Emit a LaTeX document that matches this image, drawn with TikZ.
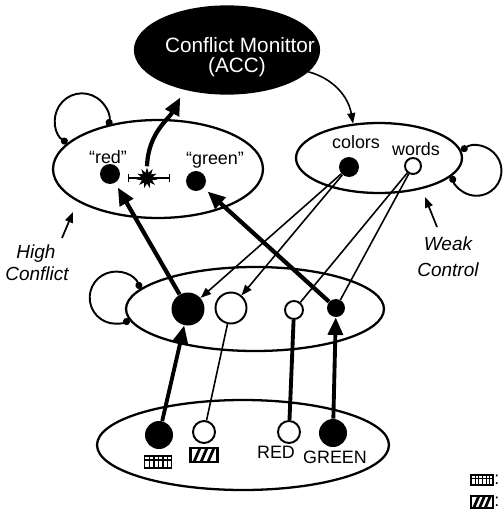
\documentclass[tikz,border=0pt]{standalone}
\usepackage{fontspec}
\setmainfont{Liberation Sans}
\usetikzlibrary{shapes.geometric,arrows.meta}
\tikzset{
 pool/.style={draw, ellipse, line width=1.3pt, inner sep=0pt},
 onunit/.style={circle, fill, inner sep=0pt},
 offunit/.style={circle, draw, fill=white, line width=1.1pt, inner sep=0pt},
 lbl/.style={font=\fontsize{10.2}{12}\selectfont, inner sep=0pt, anchor=base},
 tag/.style={font=\fontsize{10.8}{13}\selectfont\itshape, inner sep=0pt, anchor=base},
 thinline/.style={line width=0.9pt},
 thinarrow/.style={line width=0.9pt, -{Triangle[length=6pt,width=4.5pt]}},
 thickline/.style={line width=2.2pt},
 thickarrow/.style={line width=2.4pt, -{Triangle[length=10pt,width=8.5pt]}},
 pointer/.style={line width=1pt, -{Triangle[length=6pt,width=4.5pt]}},
 selfloop/.style={line width=1.1pt, {Circle[length=4pt]}-{Circle[length=4pt]}},
 errbar/.style={line width=0.8pt, {Bar[width=5pt]}-{Bar[width=5pt]}},
 gridicon/.pic={
  \draw[line width=0.9pt] (-13.5,-6) rectangle (13.5,6);
  \draw[line width=0.6pt] (-13.5,2) -- (13.5,2);
  \foreach \gx in {-8.5,-4,0.5,5,9.5} \draw[line width=0.6pt] (\gx,-6) -- (\gx,6);
 },
 hatchicon/.pic={
  \draw[line width=1.2pt] (-13.5,-7) rectangle (13.5,7);
  \foreach \hx in {-7,0,7} \draw[line width=1.6pt] (\hx-3,-7) -- (\hx+3,7);
 }
}
\begin{document}
\begin{tikzpicture}[x=0.02cm, y=0.02cm]
 \useasboundingbox (0,0) rectangle (503,-518);
 % monitor
 \node[pool, fill=black, minimum width=3.68cm, minimum height=1.74cm] (acc) at (227,-50) {};
 \node[lbl, text=white, font=\fontsize{11.8}{12}\selectfont] (acctop) at (240,-52) {Conflict Monittor};
 \node[lbl, text=white, font=\fontsize{11.8}{12}\selectfont] (accbot) at (237,-72) {(ACC)};
 % response layer
 \node[pool, minimum width=4.2cm, minimum height=1.96cm] (word) at (158,-169) {};
 \node[onunit, minimum size=0.4cm] (rd) at (110,-174) {};
 \node[onunit, minimum size=0.4cm] (gd) at (196,-181) {};
 \node[lbl] (redlbl) at (108,-163) {“red”};
 \node[lbl] (greenlbl) at (215,-164) {“green”};
 \coordinate (barL) at (128,-178);
 \coordinate (barR) at (170,-178);
 \draw[errbar] (barL) -- (barR);
 \node[star, star points=11, star point ratio=1.9, fill, inner sep=0pt, minimum size=0.42cm] (clash) at (147,-178) {};
 % task demand layer
 \node[pool, minimum width=3.32cm, minimum height=1.4cm] (task) at (379,-158) {};
 \node[onunit, minimum size=0.4cm] (cd) at (349,-167) {};
 \node[offunit, minimum size=0.32cm] (wd) at (413,-166) {};
 \node[lbl] (colorslbl) at (356,-148) {colors};
 \node[lbl] (wordslbl) at (416,-155) {words};
 % hidden layer
 \node[pool, minimum width=5.16cm, minimum height=1.68cm] (hid) at (255,-309) {};
 \node[onunit, minimum size=0.66cm] (h1) at (188,-309) {};
 \node[offunit, minimum size=0.62cm] (h2) at (231,-308) {};
 \node[offunit, minimum size=0.36cm] (h3) at (294,-310) {};
 \node[onunit, minimum size=0.36cm] (h4) at (336,-308) {};
 % input layer
 \node[pool, minimum width=5.84cm, minimum height=1.8cm] (inp) at (243,-445) {};
 \node[onunit, minimum size=0.56cm] (i1) at (159,-435) {};
 \node[offunit, minimum size=0.44cm] (i2) at (204,-432) {};
 \node[offunit, minimum size=0.44cm] (i3) at (289,-432) {};
 \node[onunit, minimum size=0.56cm] (i4) at (333,-433) {};
 \pic at (158,-462) {gridicon};
 \pic at (204,-455) {hatchicon};
 \node[lbl] (redword) at (276,-458) {RED};
 \node[lbl] (greenword) at (335,-463) {GREEN};
 % connections
 \draw[thickarrow, shorten >=3pt] (h1) -- (rd);
 \draw[thickarrow, shorten >=3pt] (h4) -- (gd);
 \draw[thinarrow] (cd) -- (h1);
 \draw[thinarrow] (cd) -- (h2);
 \draw[thinline] (wd) -- (h3);
 \draw[thinline] (wd) -- (h4);
 \draw[thickarrow, line width=2.2pt] (i1) -- (h1);
 \draw[thinline] (i2) -- (h2);
 \draw[thickline] (i3) -- (h3);
 \draw[thickarrow, line width=2.2pt] (i4) -- (h4);
 \draw[thickarrow, shorten >=5pt] (clash.north) to[out=88, in=-118] (acc.223);
 \draw[thinarrow] (acc.-15) to[out=-15, in=100] (task.127);
 \draw[selfloop] (word.164) arc[start angle=237, end angle=-12, radius=27];
 \draw[selfloop] (task.5) arc[start angle=127, end angle=-168, radius=25];
 \draw[selfloop] (hid.170) arc[start angle=20, end angle=302, radius=26];
 % labels
 \node[tag] (highlbl) at (36,-258) {High};
 \node[tag] (conflictlbl) at (37,-280) {Conflict};
 \coordinate (hcTail) at (62,-238);
 \coordinate (hcTip) at (73,-212);
 \draw[pointer] (hcTail) -- (hcTip);
 \node[tag] (weaklbl) at (448,-250) {Weak};
 \node[tag] (controllbl) at (448,-276) {Control};
 \coordinate (wcTail) at (437,-227);
 \coordinate (wcTip) at (425,-197);
 \draw[pointer] (wcTail) -- (wcTip);
 % legend
 \pic[scale=0.82] at (482,-480) {gridicon};
 \node[lbl, anchor=base west] (legendA) at (494,-484) {:};
 \pic[scale=0.82] at (482,-502) {hatchicon};
 \node[lbl, anchor=base west] (legendB) at (494,-506) {:};
\end{tikzpicture}
\end{document}
